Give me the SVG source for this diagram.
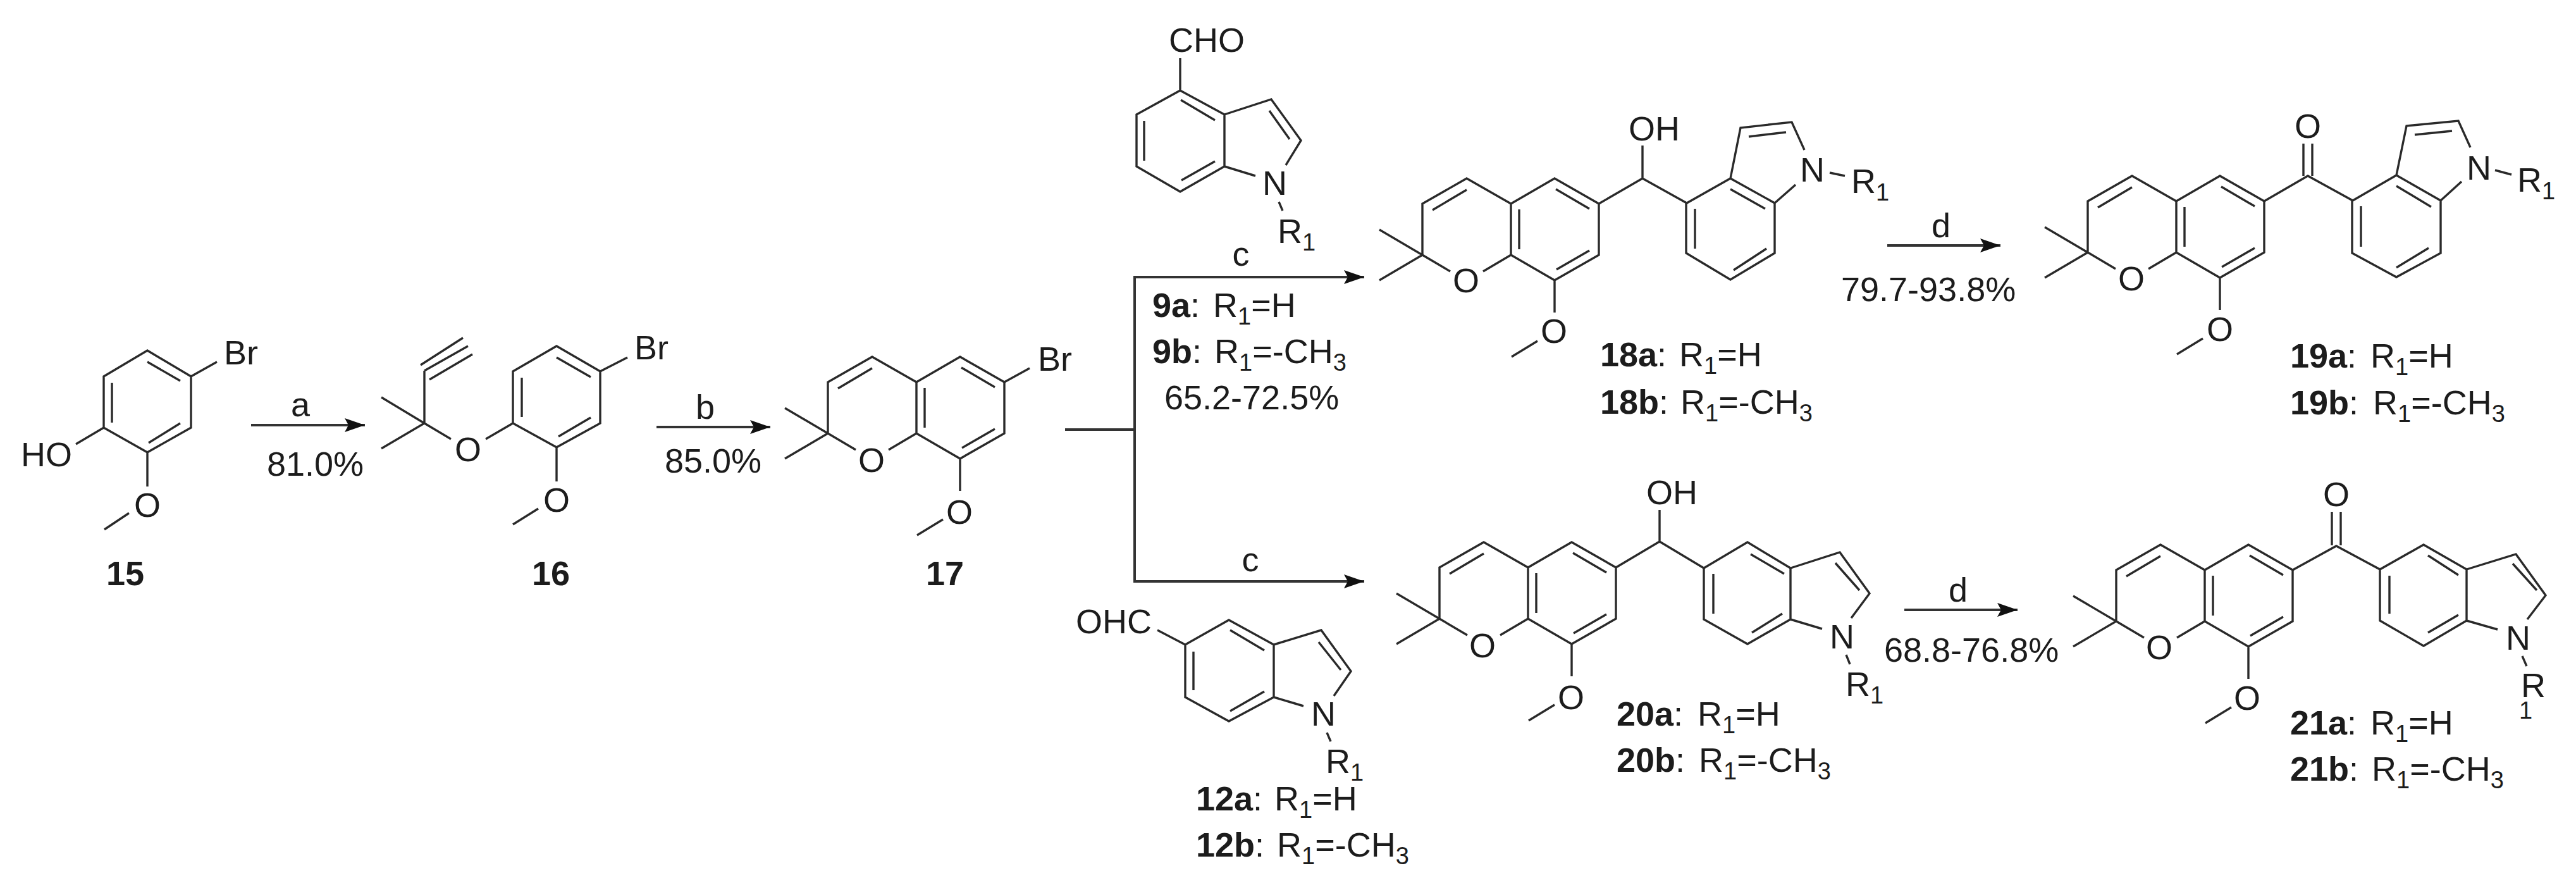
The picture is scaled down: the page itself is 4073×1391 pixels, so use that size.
<svg xmlns="http://www.w3.org/2000/svg" width="4073" height="1391" viewBox="0 0 4073 1391">
<style>
text{font-family:"Liberation Sans",Arial,sans-serif;font-size:54px;fill:#1c1c1c}
.m{text-anchor:middle}
.b{font-weight:bold}
.s{font-size:38px}
.bond{fill:none;stroke:#2a2a2a;stroke-width:3.4;stroke-linecap:butt;stroke-linejoin:miter}
.flow{fill:none;stroke:#333;stroke-width:4}
</style>
<defs>
<marker id="head" markerUnits="userSpaceOnUse" markerWidth="36" markerHeight="26" refX="32" refY="13" orient="auto"><path d="M0 2L32 13L0 24L6 13Z" fill="#111"/></marker>
<path id="chromene" class="bond" d="M-68-40L0 0L-68 40M0 0L44 26M96 26L140 0M0 0V-81L70-121L140-81L209-121L279-81V0L209 40L140 0V-81M16-71L70-103M153-72V-9M211-104L264-73M264-7L212 23M209 40V91M182 136L141 161"/>
</defs>
<rect width="4073" height="1391" fill="#fff"/>
<g id="connectors">
<path class="flow" marker-end="url(#head)" d="M397 672H577"/>
<path class="flow" marker-end="url(#head)" d="M1038 675H1218"/>
<path class="flow" d="M1684 679H1794"/>
<path class="flow" marker-end="url(#head)" d="M1794 679V438H2157"/>
<path class="flow" marker-end="url(#head)" d="M1794 679V919H2157"/>
<path class="flow" marker-end="url(#head)" d="M2984 388H3163"/>
<path class="flow" marker-end="url(#head)" d="M3011 964H3190"/>
<text class="m" x="475" y="658">a</text>
<text x="422" y="752">81.0%</text>
<text class="m" x="1115" y="662">b</text>
<text x="1051" y="747">85.0%</text>
<text class="m" x="1962" y="420">c</text>
<text class="m" x="1977" y="903">c</text>
<text class="m" x="3069" y="375">d</text>
<text x="2911" y="476">79.7-93.8%</text>
<text class="m" x="3096" y="951">d</text>
<text x="2979" y="1046">68.8-76.8%</text>
<text x="1841" y="647">65.2-72.5%</text>
</g>
<g id="compound-15">
<path class="bond" d="M233 554L302 595V676L233 715L164 676V595ZM177 605V668M233 572L285 602M285 669L235 700M302 595L343 572M164 676L120 702M233 715V769M204 811L165 837"/>
<text x="354" y="576">Br</text><text x="33" y="737">HO</text><text class="m" x="233" y="817">O</text>
<text class="m b" x="198" y="925">15</text>
</g>
<g id="compound-16">
<path class="bond" d="M880 547L949 587V669L880 707L811 669V587ZM825 597V659M880 565L934 596M934 660L883 690M949 587L992 565M880 707V761M851 804L811 829M811 669L768 694M671 669L713 694M603 628L671 669L603 709M671 669V586M671 586L740 547M665 577L732 534M679 600L747 560"/>
<text x="1003" y="568">Br</text><text class="m" x="740" y="729">O</text><text class="m" x="880" y="809">O</text>
<text class="m b" x="871" y="925">16</text>
</g>
<g id="compound-17">
<use href="#chromene" x="1309" y="685"/>
<path class="bond" d="M1588 604L1628 582"/>
<text x="1641" y="586">Br</text><text class="m" x="1378" y="746">O</text><text class="m" x="1517" y="828">O</text>
<text class="m b" x="1494" y="925">17</text>
</g>
<g id="compound-9">
<path class="bond" d="M1866 143L1936 181V263L1866 303L1797 263V181ZM1866 143V92M1809 191V254M1867 158L1921 190M1921 255L1868 285M1936 181L2010 157L2057 222L2033 261M1936 263L1985 278M2022 319L2028 333M2007 175L2039 220"/>
<text x="1848" y="82">CHO</text><text x="1996" y="308">N</text>
<text x="2020" y="384">R<tspan class="s" dy="12">1</tspan></text>
<text x="1822" y="501"><tspan class="b">9a</tspan>: <tspan x="1918">R</tspan><tspan class="s" dy="12">1</tspan><tspan dy="-12">=H</tspan></text>
<text x="1822" y="574"><tspan class="b">9b</tspan>: <tspan x="1920">R</tspan><tspan class="s" dy="12">1</tspan><tspan dy="-12">=-CH</tspan><tspan class="s" dy="12">3</tspan></text>
</g>
<g id="compound-12">
<path class="bond" d="M1943 980L2014 1019V1102L1943 1140L1874 1102V1019ZM1830 996L1874 1019M1887 1030V1091M1945 996L1999 1028M1999 1093L1945 1124M2014 1019L2089 996L2136 1061L2109 1100M2014 1102L2061 1116M2098 1158L2104 1172M2085 1015L2120 1059"/>
<text x="1701" y="1001">OHC</text><text x="2073" y="1147">N</text>
<text x="2096" y="1222">R<tspan class="s" dy="12">1</tspan></text>
<text x="1891" y="1281"><tspan class="b">12a</tspan>: <tspan x="2015">R</tspan><tspan class="s" dy="12">1</tspan><tspan dy="-12">=H</tspan></text>
<text x="1891" y="1354"><tspan class="b">12b</tspan>: <tspan x="2019">R</tspan><tspan class="s" dy="12">1</tspan><tspan dy="-12">=-CH</tspan><tspan class="s" dy="12">3</tspan></text>
</g>
<g id="compound-18">
<use href="#chromene" x="2249" y="403"/>
<path class="bond" d="M2528 322L2597 282V230M2597 282L2667 321L2736 282L2806 321V400L2736 442L2666 400V321M2680 330V393M2736 299L2791 330M2793 393L2741 427M2736 282L2752 202L2833 193L2853 237M2806 321L2839 292M2765 216L2824 209M2893 273L2917 278"/>
<text x="2575" y="222">OH</text><text x="2846" y="287">N</text>
<text x="2927" y="305">R<tspan class="s" dy="12">1</tspan></text>
<text class="m" x="2318" y="462">O</text><text class="m" x="2457" y="542">O</text>
<text x="2530" y="579"><tspan class="b">18a</tspan>: <tspan x="2655">R</tspan><tspan class="s" dy="12">1</tspan><tspan dy="-12">=H</tspan></text>
<text x="2530" y="654"><tspan class="b">18b</tspan>: <tspan x="2657">R</tspan><tspan class="s" dy="12">1</tspan><tspan dy="-12">=-CH</tspan><tspan class="s" dy="12">3</tspan></text>
</g>
<g id="compound-19">
<use href="#chromene" x="3301" y="399"/>
<path class="bond" d="M3580 318L3649 278L3720 317L3789 277L3859 317V400L3789 438L3719 400V317M3642 278V227M3656 278V227M3733 326V390M3789 294L3844 327M3840 392L3789 423M3789 277L3805 199L3887 191L3906 233M3859 317L3892 287M3818 213L3877 207M3945 269L3971 276"/>
<text class="m" x="3649" y="218">O</text><text x="3900" y="284">N</text>
<text x="3980" y="303">R<tspan class="s" dy="12">1</tspan></text>
<text class="m" x="3370" y="459">O</text><text class="m" x="3510" y="539">O</text>
<text x="3621" y="581"><tspan class="b">19a</tspan>: <tspan x="3748">R</tspan><tspan class="s" dy="12">1</tspan><tspan dy="-12">=H</tspan></text>
<text x="3621" y="655"><tspan class="b">19b</tspan>: <tspan x="3752">R</tspan><tspan class="s" dy="12">1</tspan><tspan dy="-12">=-CH</tspan><tspan class="s" dy="12">3</tspan></text>
</g>
<g id="compound-20">
<use href="#chromene" x="2276" y="978"/>
<path class="bond" d="M2555 897L2624 856V806M2624 856L2694 898L2763 857L2831 898V979L2763 1018L2694 979V898M2709 907V970M2768 876L2821 907M2818 970L2770 1000M2831 898L2909 873L2956 938L2927 977M2831 979L2881 994M2902 890L2940 933M2919 1035L2925 1050"/>
<text x="2603" y="797">OH</text><text x="2893" y="1025">N</text>
<text x="2918" y="1100">R<tspan class="s" dy="12">1</tspan></text>
<text class="m" x="2344" y="1039">O</text><text class="m" x="2484" y="1121">O</text>
<text x="2556" y="1147"><tspan class="b">20a</tspan>: <tspan x="2684">R</tspan><tspan class="s" dy="12">1</tspan><tspan dy="-12">=H</tspan></text>
<text x="2556" y="1220"><tspan class="b">20b</tspan>: <tspan x="2686">R</tspan><tspan class="s" dy="12">1</tspan><tspan dy="-12">=-CH</tspan><tspan class="s" dy="12">3</tspan></text>
</g>
<g id="compound-21">
<use href="#chromene" x="3346" y="982"/>
<path class="bond" d="M3625 901L3694 863L3763 900L3832 861L3900 900V981L3832 1021L3763 981V900M3687 862V809M3701 862V809M3778 910V970M3839 878L3887 909M3887 972L3839 1000M3900 900L3978 876L4025 941L3996 979M3900 981L3949 995M3973 891L4011 933M3988 1037L3995 1053"/>
<text class="m" x="3694" y="800">O</text><text x="3962" y="1027">N</text>
<text x="3986" y="1102">R</text><text class="s" x="3983" y="1136">1</text>
<text class="m" x="3414" y="1042">O</text><text class="m" x="3553" y="1122">O</text>
<text x="3621" y="1161"><tspan class="b">21a</tspan>: <tspan x="3748">R</tspan><tspan class="s" dy="12">1</tspan><tspan dy="-12">=H</tspan></text>
<text x="3621" y="1234"><tspan class="b">21b</tspan>: <tspan x="3750">R</tspan><tspan class="s" dy="12">1</tspan><tspan dy="-12">=-CH</tspan><tspan class="s" dy="12">3</tspan></text>
</g>
</svg>
